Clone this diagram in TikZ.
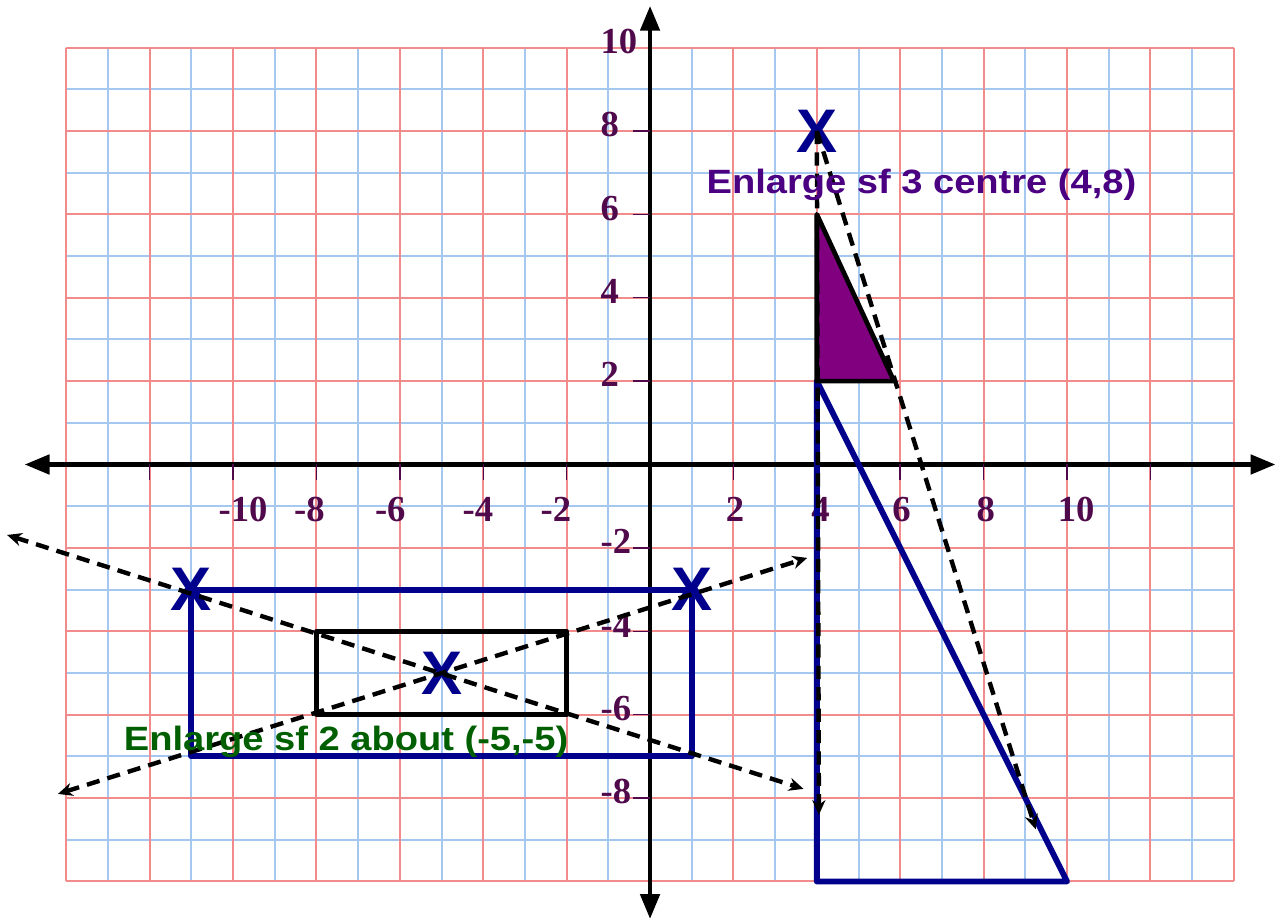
\documentclass[tikz,border=0pt]{standalone}
\usepackage{fontspec}
\setmainfont{Liberation Serif}
\newfontfamily\notefont[FakeStretch=1.13]{Liberation Sans}
\newfontfamily\crossfont{Liberation Sans}
\usepackage{tikz}
\usetikzlibrary{arrows.meta,positioning}
\usepackage{xcolor}
\definecolor{gridred}{RGB}{242,140,140}
\definecolor{gridblue}{RGB}{165,200,240}
\definecolor{navyblue}{RGB}{0,0,140}
\definecolor{tickpurple}{RGB}{80,10,75}
\definecolor{fillpurple}{RGB}{128,0,128}
\definecolor{notepurple}{RGB}{75,0,130}
\definecolor{notegreen}{RGB}{0,95,0}
\tikzset{
  gridlinered/.style={gridred, line width=0.7pt},
  gridlineblue/.style={gridblue, line width=0.7pt},
  axis/.style={{Triangle[length=8.5pt,width=6.5pt]}-{Triangle[length=8.5pt,width=6.5pt]}, line width=1.6pt, black},
  axtick/.style={tickpurple, line width=0.5pt},
  ticklabel/.style={font=\bfseries\fontsize{12.5}{14}\selectfont, text=tickpurple, inner sep=0pt},
  cross/.style={font=\crossfont\bfseries\fontsize{21}{24}\selectfont, text=navyblue, inner sep=0pt},
  shapeblue/.style={navyblue, line width=2pt, line join=round},
  shapeblack/.style={black, line width=1.6pt, line join=round},
  arrowdashed/.style={-{Stealth[length=5pt,width=4.5pt]}, dash pattern=on 4.5pt off 2.8pt, line width=1.5pt, black},
  arrowdashedboth/.style={arrowdashed, {Stealth[length=5pt,width=4.5pt]}-{Stealth[length=5pt,width=4.5pt]}},
  note/.style={font=\notefont\bfseries\fontsize{11.5}{13}\selectfont, inner sep=0pt, anchor=base},
}

\begin{document}
\begin{tikzpicture}[x=0.5cm, y=0.5cm]
\useasboundingbox (-15.59,-10.92) rectangle (15.06,11.14);

\foreach \x in {-13,-11,...,13} \draw[gridlineblue] (\x,-10) -- (\x,10);
\foreach \y in {-9,-7,...,9} \draw[gridlineblue] (-14,\y) -- (14,\y);
\foreach \x in {-14,-12,...,14} \draw[gridlinered] (\x,-10) -- (\x,10);
\foreach \y in {-10,-8,...,10} \draw[gridlinered] (-14,\y) -- (14,\y);

\draw[axis] (-15,0) -- (15,0);
\draw[axis] (0,-10.9) -- (0,11);
\foreach \x in {-12,-10,...,-2,2,4,...,12} \draw[axtick] (\x,0) -- (\x,-0.36);
\foreach \y in {-8,-6,-4,-2,2,4,6,8} \draw[axtick] (-0.4,\y) -- (0,\y);

\foreach \p/\t [count=\i] in {-9.76/-10,-8.17/-8,-6.23/-6,-4.13/-4,-2.26/-2,2.04/2,4.09/4,6.03/6,8.05/8,10.22/10}
  \node[ticklabel] (xlab\i) at (\p,-1.08) {\t};
\foreach \y [count=\i] in {10,8,6,4,2,-2,-4,-6,-8}
  \node[ticklabel, anchor=west] (ylab\i) at (-1.2,\y+0.15) {\y};

\draw[shapeblue] (-11,-3) rectangle (1,-7);
\draw[shapeblack] (-8,-4) rectangle (-2,-6);
\draw[shapeblue] (4,2) -- (4,-10) -- (10,-10) -- cycle;
\draw[shapeblack, fill=fillpurple] (4,6) -- (4,2) -- (5.85,2) -- cycle;

\node[cross] (crosscentre) at (4,8) {X};
\node[cross] (crossleft) at (-11,-3) {X};
\node[cross] (crossright) at (1,-3) {X};
\node[cross] (crossabout) at (-5,-5) {X};

\coordinate (rayonea) at (-15.42,-1.69);
\coordinate (rayoneb) at (3.68,-7.78);
\coordinate (raytwoa) at (-14.2,-7.9);
\coordinate (raytwob) at (3.77,-2.24);
\coordinate (raydown) at (4.05,-8.4);
\coordinate (rayslant) at (9.25,-8.75);

\draw[arrowdashedboth] (rayonea) -- (rayoneb);
\draw[arrowdashedboth] (raytwoa) -- (raytwob);
\draw[arrowdashed] (crosscentre.center) -- (raydown);
\draw[arrowdashed] (crosscentre.center) -- (rayslant);

\node[note, text=notepurple] (notecentre) at (6.51,6.49) {Enlarge sf 3 centre (4,8)};
\node[note, text=notegreen] (noteabout) at (-7.29,-6.85) {Enlarge sf 2 about (-5,-5)};
\end{tikzpicture}
\end{document}
